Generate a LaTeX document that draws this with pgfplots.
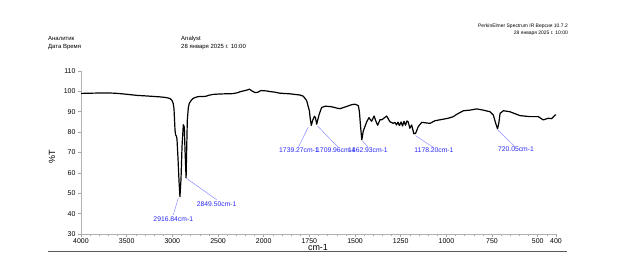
\documentclass[border=0pt]{standalone}
\usepackage{fontspec}
\setmainfont{Liberation Sans}
\usepackage{pgfplots}
\usepackage{pgfplotstable}
\pgfplotsset{compat=1.18}
\definecolor{annot}{RGB}{40,40,245}
\definecolor{leader}{RGB}{140,140,255}

\pgfplotstableread{
w t
4000 99.0
3900 99.1
3792 99.2
3700 99.2
3628 99.1
3550 98.8
3464 98.4
3380 98.0
3299 97.8
3200 97.5
3135 97.3
3070 97.0
3026 96.5
3004 95.6
2990 94.0
2982 91.5
2975 85.0
2971 81.0
2964 78.6
2955 78.0
2949 76.5
2938 67.0
2927 56.0
2916.84 48.3
2905 57.0
2894 73.0
2880 83.6
2869 82.5
2862 72.0
2849.50 57.5
2843 72.0
2836 86.0
2825 92.0
2814 94.2
2790 95.8
2771 96.6
2730 97.3
2697 97.5
2660 97.5
2632 97.6
2600 98.1
2555 98.5
2490 98.7
2424 98.8
2336 98.9
2290 99.3
2259 99.8
2205 100.4
2170 100.8
2158 101.1
2140 100.6
2128 100.2
2095 99.4
2062 99.6
2040 100.2
2022 100.4
2000 100.3
1983 100.2
1965 99.9
1938 99.6
1911 99.1
1856 98.8
1801 98.2
1783 97.6
1765 95.5
1750 90.5
1745 86.5
1739.27 83.3
1731 86.0
1722 87.8
1717 87.2
1709.96 83.9
1697 88.5
1683 92.1
1664 92.7
1640 92.6
1621 92.3
1600 91.8
1582 91.5
1546 92.6
1517 93.5
1500 93.7
1482 93.0
1476 90.0
1470 83.0
1462.93 76.2
1455 80.5
1436 85.1
1424 87.1
1409 85.3
1396 87.9
1382 84.5
1376 83.4
1363 86.2
1354 86.0
1327 87.9
1309 85.1
1291 84.3
1282 84.8
1273 83.5
1265 84.9
1257 83.2
1248 85.0
1240 83.0
1232 85.3
1224 83.4
1216 85.5
1209 85.0
1200 81.9
1190 83.5
1178.20 79.2
1168 79.5
1154 82.7
1135 84.8
1117 84.6
1090 84.3
1062 85.6
1026 86.2
990 86.8
962 87.6
944 88.7
907 90.5
871 90.8
834 91.4
798 90.8
761 90.0
743 88.4
730 84.3
720.05 81.6
713 84.5
706 89.2
688 90.5
652 90.0
597 88.1
542 87.6
497 87.6
470 86.0
442 86.8
424 86.6
405 88.4
400 88.4
}\spectrum

\begin{document}
\begin{tikzpicture}
\useasboundingbox (0,0) rectangle (623bp,253bp);
\begin{axis}[
  at={(81bp,19bp)}, anchor=south west,
  scale only axis, width=475bp, height=163bp,
  xmin=-4000, xmax=1200, ymin=30, ymax=110,
  axis x line*=bottom, axis y line*=left,
  axis line style={gray!60, -},
  every tick/.style={gray!70, line width=0.5bp},
  tick align=outside,
  major tick length=3bp, minor tick length=1.5bp,
  xtick={-4000,-3500,-3000,-2500,-2000,-1500,-1000,-500,0,500,1000,1200},
  xticklabels={4000,3500,3000,2500,2000,1750,1500,1250,1000,750,500,400},
  minor xtick={-3900,-3800,...,1100},
  ytick={30,40,...,110},
  /pgf/number format/assume math mode=true,
  ticklabel style={font=\fontsize{7}{8}\selectfont, text=black},
  xticklabel style={yshift=2.2bp},
  yticklabel style={xshift=1bp},
  clip=false,
]
\addplot[black, line width=1.2bp, line join=round, no markers]
  table[x expr={ifthenelse(\thisrow{w}>=2000, -\thisrow{w}, 2000-2*\thisrow{w})}, y=t] {\spectrum};

\begin{scope}[leader, line width=0.5bp]
\draw (axis cs:-2935,47.6) -- (axis cs:-2990,39.4);
\draw (axis cs:-2845,57.3) -- (axis cs:-2514.5,46.8);
\draw (axis cs:-1511.7,82.5) -- (axis cs:-1619,72.7);
\draw (axis cs:-1411,83.0) -- (axis cs:-1183.3,72.5);
\draw (axis cs:-918.4,75.6) -- (axis cs:-855,72.5);
\draw (axis cs:-338,78.3) -- (axis cs:-143.4,72.5);
\draw (axis cs:564.9,81.0) -- (axis cs:751,72.8);
\end{scope}
\begin{scope}[every node/.style={font=\fontsize{6.8}{8}\selectfont, text=annot, inner sep=0pt}]
\node at (axis cs:-2990,37.3) {2916.84cm-1};
\node at (axis cs:-2514.5,44.7) {2849.50cm-1};
\node at (axis cs:-1613.6,71.0) {1739.27cm-1};
\node at (axis cs:-1208.5,70.9) {1709.96cm-1};
\node at (axis cs:-858.2,70.9) {1462.93cm-1};
\node at (axis cs:-135.7,70.9) {1178.20cm-1};
\node at (axis cs:762,71.6) {720.05cm-1};
\end{scope}
\end{axis}

\node[rotate=90, font=\fontsize{9}{10}\selectfont] at (52bp,96bp) {\%T};
\node[anchor=base, font=\fontsize{9}{10}\selectfont, inner sep=0pt] at (318bp,2.6bp) {cm-1};
\draw[gray!70!black, line width=1bp] (48bp,1.2bp) -- (567bp,1.2bp);

\begin{scope}[every node/.style={inner sep=0pt, font=\fontsize{6}{7}\selectfont}]
\node[anchor=base west] at (48bp,212.3bp) {Аналитик};
\node[anchor=base west] at (48bp,204.3bp) {Дата Время};
\node[anchor=base west] at (181bp,212.3bp) {Analyst};
\node[anchor=base west] at (181bp,204.3bp) {28 января 2025 г. 10:00};
\end{scope}
\begin{scope}[every node/.style={inner sep=0pt, font=\fontsize{5}{6}\selectfont}]
\node[anchor=base east] at (568bp,225.5bp) {PerkinElmer Spectrum IR Версия 10.7.2};
\node[anchor=base east] at (568bp,218.7bp) {28 января 2025 г. 10:00};
\end{scope}
\end{tikzpicture}
\end{document}
